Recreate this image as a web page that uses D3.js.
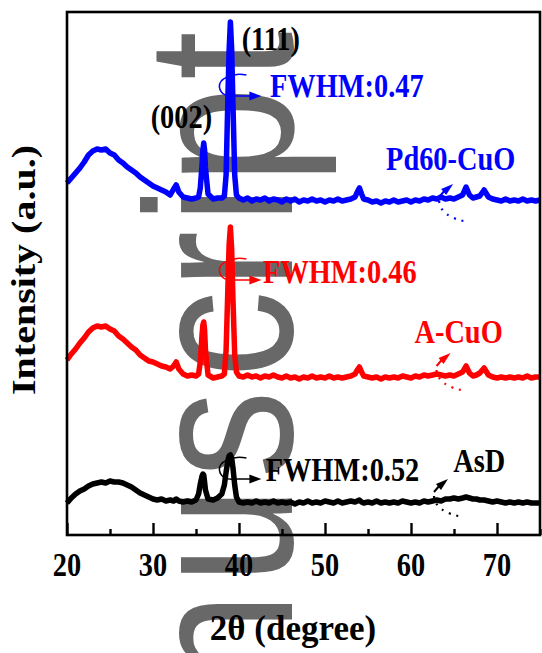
<!DOCTYPE html>
<meta charset="utf-8">
<style>
body { margin: 0; background: #fff; }
text { font-family: "Liberation Serif", "Times New Roman", serif; font-weight: bold; }
</style>
<svg id="mysvg" width="542" height="653"></svg>
<script src="https://cdn.jsdelivr.net/npm/d3@7/dist/d3.min.js"></script>
<script>

var twoTheta = [20,20.5,21,21.5,22,22.5,23,23.5,24,24.5,25,25.5,26,26.5,27,27.5,28,28.5,29,29.5,30,30.5,31,31.5,32,
	32.4,32.7,33,
	33.5,34,34.5,35,
	35.3,35.5,35.7,35.8,35.9,36.0,36.1,36.4,
	37,37.5,38,
	38.3,38.5,38.7,38.85,39.0,39.15,39.3,39.5,39.7,
	40,40.5,41,41.5,42,42.5,43,43.5,44,44.5,45,45.5,46,46.5,47,47.5,48,48.5,49,49.5,50,50.5,51,51.5,52,52.5,53,53.5,
	53.75,54.0,54.25,
	54.5,55,55.5,56,56.5,57,57.5,58,58.5,59,59.5,60,60.5,61,61.5,62,62.5,63,63.5,64,64.5,65,65.5,66,
	66.4,66.8,67.2,67.6,
	68,68.5,
	69,69.5,70,70.5,71,71.5,72,72.5,73,73.5,74,74.5,75];

var asD = [34,39,43,46,48,51,53,54,55,54,56,55,55,54,52,50,47,44,42,40,38,37,38,36,37,
	36,38,36,
	35,36,35,37,
	43,53,61,63,62,55,47,38,
	37,39,43,
	52,65,76,81,82,79,69,52,40,
	35,34,35,34,36,34,35,34,36,34,35,34,35,33,35,34,36,34,35,34,36,35,34,36,34,35,36,35,
	36,37,35,
	34,35,34,36,34,35,34,35,34,36,35,34,35,34,36,35,36,37,36,38,38,39,38,39,
	40,39,38,38,
	37,37,
	36,35,36,35,34,35,34,35,34,35,34,34,34];

var aCuO = [177,183,188,194,199,205,209,211,210,211,208,206,201,198,194,190,187,182,179,176,175,173,171,170,168,
	171,175,168,
	163,161,162,161,
	163,175,202,212,215,207,187,162,
	159,160,161,
	163,187,247,292,310,287,237,182,165,
	161,160,162,160,161,159,161,160,162,160,159,161,159,160,158,160,159,161,159,160,159,161,159,160,159,160,161,163,
	167,170,165,
	161,160,159,160,158,160,159,160,159,161,160,159,161,160,162,161,162,163,162,161,162,161,163,165,
	171,164,161,162,
	164,169,
	162,160,159,160,159,160,159,160,159,161,159,160,160];

var pd60 = [354,359,364,369,375,382,386,388,387,388,384,382,377,374,370,367,364,360,357,354,351,349,347,345,342,
	348,352,345,
	340,339,338,339,
	340,349,372,387,394,387,369,343,
	338,339,339,
	341,362,437,487,515,487,432,362,342,
	339,337,339,336,338,337,339,336,338,337,335,338,336,338,335,337,336,338,336,337,335,337,336,338,336,337,338,340,
	345,349,343,
	338,337,335,336,334,336,335,337,335,336,337,335,337,336,338,337,339,338,340,338,339,338,340,342,
	350,342,339,340,
	341,347,
	340,338,337,336,338,336,337,336,338,336,337,336,337];

var seriesNames = ["AsD", "A-CuO", "Pd60-CuO"];
var seriesColors = ["#000000", "#ff0000", "#0000ff"];
var fwhmLabels = ["FWHM:0.52", "FWHM:0.46", "FWHM:0.47"];
var peakLabels = ["(002)", "(111)"];
var xTicks = [20, 30, 40, 50, 60, 70];
var xMinorTicks = [25, 35, 45, 55, 65, 75];

var svg = d3.select("#mysvg");
var squeeze = 0.86;

var x = d3.scaleLinear()
	.domain([20, 75])
	.range([67, 540]);

var y = d3.scaleLinear()
	.domain([2, 525])
	.range([535, 12]);

// watermark behind everything
svg.append("text")
	.attr("transform", "translate(292,0) rotate(-90) scale(1,1.2)")
	.attr("x", "-690 -584 -478 -378 -289 -224 -184 -80")
	.attr("y", 0)
	.style("font-family", "'Liberation Sans', Arial, sans-serif")
	.style("font-weight", "normal")
	.style("font-size", "175px")
	.attr("fill", "#686868")
	.text("nuscript");

var allSeries = [asD, aCuO, pd60];

var line = d3.line()
	.x(function(d){ return x(d[0]); })
	.y(function(d){ return y(d[1]); });

svg.selectAll("path.xrd")
	.data(allSeries)
	.enter().append("path")
	.attr("class", "xrd")
	.attr("fill", "none")
	.attr("stroke", function(d, i){ return seriesColors[i]; })
	.attr("stroke-width", 5.5)
	.attr("stroke-linejoin", "round")
	.attr("d", function(d){ return line(twoTheta.map(function(t, j){ return [t, d[j]]; })); });

// frame and ticks
svg.append("rect")
	.attr("x", x(20)).attr("y", y(525))
	.attr("width", x(75) - x(20)).attr("height", y(2) - y(525))
	.attr("fill", "none").attr("stroke", "#000").attr("stroke-width", 2.6);

var axis = svg.append("g")
	.attr("transform", "translate(0," + y(2) + ")");

axis.call(d3.axisBottom(x).tickValues(xTicks).tickSize(-12).tickFormat(""));
axis.append("g").call(d3.axisBottom(x).tickValues(xMinorTicks).tickSize(-6).tickFormat(""));
axis.selectAll(".domain").remove();
axis.selectAll(".tick line").attr("stroke", "#000").attr("stroke-width", 2.4);

function label(px, py, str, size, color, anchor, sx){
	return svg.append("text")
		.attr("transform", "translate(" + px + "," + py + ") scale(" + (sx || squeeze) + ",1)")
		.attr("text-anchor", anchor || "start")
		.attr("fill", color)
		.style("font-size", size + "px")
		.text(str);
}

xTicks.forEach(function(t){
	label(x(t), y(2) + 41, t, 33, "#000", "middle");
});

label(293, 640, "2θ (degree)", 35, "#000", "middle", 1.0);

svg.append("text")
	.attr("transform", "translate(35,270) scale(" + squeeze + ",1) rotate(-90)")
	.attr("text-anchor", "middle")
	.style("font-size", "40px")
	.text("Intensity (a.u.)");

// peak indices above the Pd60-CuO pattern
label(x(33.3), y(409), peakLabels[0], 33, "#000", "middle");
label(x(43.7), y(487), peakLabels[1], 33, "#000", "middle");

// sample names and FWHM of the (111) peak
var nameAt = [[64.9, 65], [60.4, 194], [57.1, 367]];
var fwhmAt = [[43.1, 56], [42.8, 254], [43.6, 440]];
var ringAt = [68, 267, 451];

seriesNames.forEach(function(n, i){
	label(x(nameAt[i][0]), y(nameAt[i][1]), n, 33, seriesColors[i]);
	label(x(fwhmAt[i][0]), y(fwhmAt[i][1]), fwhmLabels[i], 33, seriesColors[i]);

	var cx = x(39.0), cy = y(ringAt[i]);
	svg.append("path")
		.attr("fill", "none")
		.attr("stroke", seriesColors[i])
		.attr("stroke-width", 1.6)
		.attr("d", "M" + (cx + 16) + "," + (cy - 11) +
			" C" + (cx + 2) + "," + (cy - 14) + " " + (cx - 12) + "," + (cy - 7) + " " + (cx - 11) + "," + (cy + 1) +
			" C" + (cx - 10) + "," + (cy + 9) + " " + (cx - 2) + "," + (cy + 11) + " " + (cx + 4) + "," + (cy + 10) +
			" L" + (cx + 22) + "," + (cy + 10));
	svg.append("path")
		.attr("fill", seriesColors[i])
		.attr("d", "M" + (cx + 31) + "," + (cy + 10) + " L" + (cx + 19) + "," + (cy + 5.5) + " L" + (cx + 19) + "," + (cy + 14.5) + "Z");
});

// small dotted arrows near 64-65 degrees
var arrowAt = [[64.3, 58], [64.6, 184], [64.9, 353]];
arrowAt.forEach(function(a, i){
	var tx = x(a[0]), ty = y(a[1]);
	svg.append("path")
		.attr("fill", seriesColors[i])
		.attr("d", "M" + tx + "," + ty + " L" + (tx - 12) + "," + (ty + 5) + " L" + (tx - 7) + "," + (ty + 11) + "Z");
	svg.append("path")
		.attr("fill", "none")
		.attr("stroke", seriesColors[i])
		.attr("stroke-width", 2)
		.attr("d", "M" + (tx - 8) + "," + (ty + 6) + " L" + (tx - 14) + "," + (ty + 13));
	svg.append("path")
		.attr("fill", "none")
		.attr("stroke", seriesColors[i])
		.attr("stroke-width", 2.2)
		.attr("stroke-dasharray", "2,6")
		.attr("d", "M" + (tx - 14) + "," + (ty + 17) + " Q" + (tx - 13) + "," + (ty + 33) + " " + (tx + 15) + "," + (ty + 38));
});

</script>
